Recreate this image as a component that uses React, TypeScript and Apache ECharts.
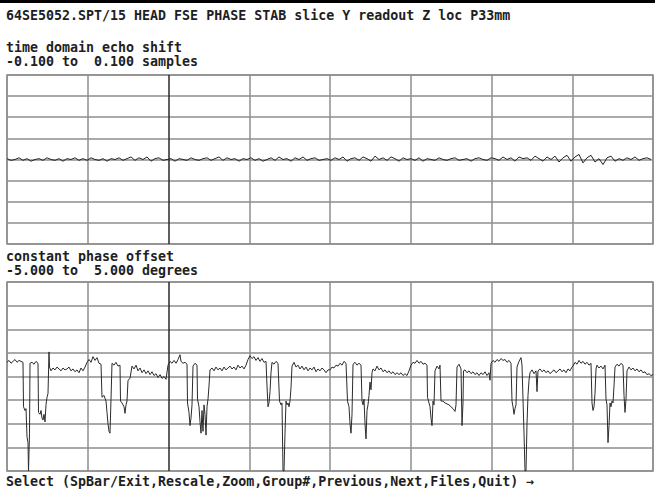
import React, { useEffect, useRef } from "react";
import * as echarts from "echarts";

const titleText = "64SE5052.SPT/15 HEAD FSE PHASE STAB slice Y readout Z loc P33mm";
const shiftLabel = "time domain echo shift";
const shiftRange = "-0.100 to  0.100 samples";
const phaseLabel = "constant phase offset";
const phaseRange = "-5.000 to  5.000 degrees";
const promptText = "Select (SpBar/Exit,Rescale,Zoom,Group#,Previous,Next,Files,Quit) \u2192";

const xMax = 646;
const xInterval = 80.75;
const shiftMin = -0.1;
const shiftMax = 0.1;
const phaseMin = -5;
const phaseMax = 5;

// time domain echo shift, one value every 4 samples
const shiftStep = 4;
const shiftValues = [
  0.001, -0.001, 0.0, 0.002, -0.001, 0.001, -0.002, 0.0, 0.001, -0.001,
  0.002, 0.0, -0.001, 0.001, -0.002, 0.001, 0.0, 0.002, -0.001, 0.001,
  -0.001, 0.002, 0.0, -0.001, 0.001, -0.002, 0.001, 0.0, 0.002, -0.001,
  0.001, 0.003, -0.001, 0.002, 0.0, 0.003, -0.002, 0.001, 0.002, -0.001,
  0.0, 0.001, -0.002, 0.001, 0.0, -0.001, 0.002, 0.0, -0.001, 0.001,
  0.002, -0.001, 0.001, 0.003, -0.001, 0.002, 0.0, 0.001, -0.002, 0.001,
  0.0, 0.002, -0.001, 0.001, -0.002, 0.0, 0.002, -0.001, 0.003, 0.0,
  0.001, -0.002, 0.002, 0.0, 0.003, -0.001, 0.001, 0.002, -0.001, 0.0,
  0.001, -0.001, 0.002, 0.0, 0.003, -0.002, 0.001, 0.002, -0.001, 0.003,
  0.001, -0.002, 0.004, 0.0, 0.002, -0.001, 0.003, 0.001, -0.002, 0.002,
  0.0, 0.001, -0.001, 0.002, -0.002, 0.001, 0.0, -0.001, 0.002, 0.0,
  -0.001, 0.001, 0.002, -0.001, 0.0, 0.001, -0.002, 0.001, 0.002, 0.0,
  -0.001, 0.002, 0.001, -0.001, 0.003, 0.0, 0.002, -0.002, 0.003, 0.001,
  0.002, -0.001, 0.004, 0.001, -0.002, 0.003, 0.0, 0.004, -0.003, 0.002,
  0.005, -0.002, 0.003, 0.006, -0.004, 0.002, 0.005, -0.003, 0.001, -0.006,
  0.002, 0.004, -0.002, 0.001, -0.001, 0.002, 0.0, 0.003, -0.001, 0.001,
  0.002, 0.0,
];

// constant phase offset: [sample, degrees]
const phasePoints: [number, number][] = [
  [0, 0.75], [2, 0.85], [4, 0.7], [6, 0.8], [8, 0.9], [10, 0.75], [12, 0.85], [14, 0.8], [16, 0.75],
  [16.5, -1.6], [18, -1.8], [19, -1.7], [20, -3.2], [21, -3.5], [21.5, -5.0], [22, -5.0], [22.5, -3.0],
  [23, 0.7], [25, 0.75], [27, 0.65], [29, 0.8], [31, 0.7],
  [31.5, -1.9], [33, -2.0], [34, -1.8], [35, -2.2], [36, -2.3], [37, -2.0], [38, -2.4], [39, -1.5], [40, -1.1], [41, -0.9],
  [42, 1.3], [42.5, 0.5], [44, 0.3], [46, 0.45], [48, 0.35], [50, 0.5], [52, 0.4], [54, 0.3], [56, 0.45], [58, 0.35],
  [60, 0.4], [62, 0.5], [64, 0.3], [66, 0.4], [68, 0.25], [70, 0.35], [72, 0.2], [74, 0.45], [76, 0.3], [78, 0.5], [80, 0.75],
  [82, 0.9], [84, 0.75], [86, 1.05], [88, 0.85], [90, 1.0], [92, 0.7], [94, 0.65],
  [95, -1.1], [97, -1.0], [99, -1.3], [100, -1.9], [101, -2.5], [102, -2.9], [103, -3.0], [104, -1.2],
  [105, 0.7], [107, 0.6], [109, 0.75], [111, 0.55], [113, 0.6],
  [113.5, -1.3], [115, -1.4], [117, -1.6], [118, -1.95], [119, -1.5], [120, -1.3], [121, -0.2], [123, -0.1],
  [125, 0.55], [127, 0.4], [129, 0.6], [131, 0.3], [133, 0.45], [135, 0.2], [137, 0.35], [139, 0.15], [141, 0.3],
  [143, 0.1], [145, 0.25], [147, 0.05], [149, 0.15], [151, -0.05], [153, 0.1], [155, -0.1], [157, 0.0], [159, -0.15],
  [161, 0.6], [163, 0.8], [165, 0.7], [167, 0.85], [169, 0.7], [171, 0.9], [173, 1.15], [174, 0.8], [176, 0.7], [178, 0.75], [180, 0.65],
  [180.5, -1.4], [182, -1.9], [183, -2.6], [184, -2.2], [185, -1.5],
  [186, 0.55], [188, 0.7], [190, 0.6],
  [190.5, -1.2], [192, -1.6], [193, -2.4], [194, -3.0], [195, -1.8], [196, -2.9], [197, -1.5], [198, -2.0], [199, -3.1], [200, -1.6], [201, -1.2], [202, -0.5],
  [203, 0.35], [205, 0.45], [207, 0.3], [209, 0.5], [211, 0.35], [213, 0.45], [215, 0.3], [217, 0.5], [219, 0.35], [221, 0.45],
  [223, 0.55], [225, 0.4], [227, 0.5], [229, 0.35], [231, 0.6], [233, 0.45], [235, 0.55], [237, 0.4], [239, 0.6],
  [241, 0.9], [243, 1.1], [245, 0.95], [247, 1.05], [249, 0.85], [251, 1.0], [253, 0.8], [255, 0.95], [257, 0.75], [259, 0.8],
  [260, -0.5], [261, -1.6], [262, -1.4], [263, -0.8], [264, 0.2],
  [265, 0.75], [267, 0.65], [269, 0.8], [271, 0.7],
  [272.5, -1.3], [274, -1.5], [275, -1.4], [276, -5.0], [277, -5.0], [278, -3.0], [279, -1.3], [280, -1.5], [281, -1.4], [282, -1.6], [283, -1.3], [284, -0.6],
  [285, 0.55], [287, 0.75], [289, 0.5], [291, 0.6], [293, 0.4], [295, 0.55], [297, 0.35], [299, 0.5], [301, 0.3], [303, 0.45],
  [305, 0.35], [307, 0.5], [309, 0.25], [311, 0.4], [313, 0.3], [315, 0.45], [317, 0.35], [319, 0.2], [321, 0.35],
  [323, 0.35], [325, 0.5], [327, 0.45], [329, 0.6], [331, 0.55], [333, 0.7], [335, 0.6], [337, 0.8], [339, 0.7],
  [340.5, -1.3], [342, -1.6], [343, -2.5], [344, -3.0], [345, -2.0],
  [346, 0.65], [348, 0.75], [350, 0.6], [352, 0.7], [354, 0.6],
  [355, -1.3], [356, -1.5], [357, -1.2], [358, -2.5], [359, -3.3], [360, -1.8], [361, -1.5], [362, -1.0], [363, -0.3], [364, -0.7],
  [365, 0.2], [366, 0.4], [368, 0.3], [370, 0.55], [372, 0.35], [374, 0.45], [376, 0.25], [378, 0.35], [380, 0.2], [382, 0.3],
  [384, 0.15], [386, 0.25], [388, 0.1], [390, 0.2], [392, 0.1], [394, 0.2], [396, 0.05], [398, 0.15], [400, 0.05], [402, 0.3],
  [404, 0.6], [406, 0.75], [408, 0.7], [410, 0.85], [412, 0.7], [414, 0.8], [416, 0.65], [418, 0.7], [420, 0.6],
  [420.5, -1.1], [422, -1.4], [423, -1.6], [424, -2.2], [425, -2.6], [426, -1.3], [427, -1.5],
  [428, 0.3], [430, 0.55], [432, 0.4], [433, 0.6],
  [434, -1.3], [436, -1.3], [438, -1.4], [440, -1.45], [442, -1.5], [444, -1.6], [446, -1.7], [448, -1.85], [449, -1.5],
  [450, 0.5], [452, 0.65], [454, 0.4], [455, -2.6], [456, -1.4],
  [456.5, 0.3], [458, 0.35], [460, 0.2], [462, 0.3], [464, 0.15], [466, 0.25], [468, 0.1], [470, 0.2], [472, 0.05], [474, 0.2],
  [476, 0.1], [478, 0.25], [480, 0.05], [482, 0.2], [483, -0.2],
  [484, 0.7], [486, 0.85], [488, 0.75], [490, 0.9], [492, 0.8], [494, 0.95], [496, 0.85], [498, 0.9], [500, 0.75], [502, 0.85], [504, 0.7],
  [505, -1.3], [506, -1.6], [507, -2.0], [508, -1.7], [509, -1.5],
  [510, 0.5], [512, 0.8], [514, 1.0], [515, 0.6],
  [516, -1.2], [517, -3.0], [518, -5.0], [519, -5.0], [520, -2.5], [521, -1.0], [522, -0.2],
  [523, 0.2], [525, 0.35], [527, 0.15], [529, 0.3], [530, -0.8], [531, 0.3], [533, 0.4], [535, 0.25], [537, 0.35], [539, 0.2],
  [541, 0.3], [543, 0.15], [545, 0.25], [547, 0.35], [549, 0.2], [551, 0.3], [553, 0.4], [555, 0.25], [557, 0.35], [559, 0.2],
  [561, 0.4], [563, 0.3], [565, 0.5],
  [566, 0.55], [568, 0.75], [570, 0.65], [572, 0.85], [574, 0.7], [576, 0.8], [578, 0.65], [580, 0.75], [582, 0.6], [584, 0.7],
  [585, -1.4], [586, -1.8], [587, -1.6], [588, -0.9], [589, 0.4],
  [590, 0.6], [592, 0.45], [594, 0.55], [596, 0.4], [598, 0.6],
  [599, -1.2], [600, -1.5], [601, -3.5], [602, -2.6], [603, -1.4], [604, -1.6], [605, -1.3], [606, -1.4], [607, -0.5],
  [608, 0.5], [610, 0.65], [612, 0.55], [614, 0.7], [616, 0.6],
  [617, -1.0], [618, -1.9], [619, -1.2], [620, 0.3],
  [622, 0.5], [624, 0.35], [626, 0.45], [628, 0.3], [630, 0.4], [632, 0.25], [634, 0.35], [636, 0.2], [638, 0.25],
  [640, 0.1], [642, 0.15], [644, 0.05], [646, 0.1],
];

const gridColor = "#8e8e8e";
const cursorColor = "#2a2a2a";
const xLineColors = [gridColor, gridColor, cursorColor, gridColor, gridColor, gridColor, gridColor, gridColor, gridColor];
const inkColor = "#1e1e1e";
const fontFamily = "'DejaVu Sans Mono', 'Liberation Mono', monospace";

function makeText(text: string, x: number, y: number) {
  return {
    type: "text",
    x,
    y,
    style: {
      text,
      fill: inkColor,
      font: `bold 13.3px ${fontFamily}`,
      textVerticalAlign: "middle",
      verticalAlign: "middle",
    },
  };
}

export default function App() {
  const ref = useRef<HTMLDivElement>(null);

  useEffect(() => {
    document.body.style.margin = "0";
    if (!ref.current) return;
    const chart = echarts.init(ref.current, null, { renderer: "svg" });

    const xAxisBase = (gridIndex: number) => ({
      type: "value",
      gridIndex,
      min: 0,
      max: xMax,
      interval: xInterval,
      axisLine: { show: false },
      axisTick: { show: false },
      axisLabel: { show: false },
      splitLine: { show: true, lineStyle: { color: xLineColors, width: 1.5 } },
    });

    const yAxisBase = (gridIndex: number, min: number, max: number) => ({
      type: "value",
      gridIndex,
      min,
      max,
      interval: (max - min) / 8,
      axisLine: { show: false },
      axisTick: { show: false },
      axisLabel: { show: false },
      splitLine: { show: true, lineStyle: { color: gridColor, width: 1.5 } },
    });

    chart.setOption({
      animation: false,
      backgroundColor: "#ffffff",
      grid: [
        { left: 7, top: 75, width: 646, height: 169, show: true, borderColor: gridColor, borderWidth: 1.5 },
        { left: 7, top: 282, width: 646, height: 189, show: true, borderColor: gridColor, borderWidth: 1.5 },
      ],
      xAxis: [xAxisBase(0), xAxisBase(1)],
      yAxis: [yAxisBase(0, shiftMin, shiftMax), yAxisBase(1, phaseMin, phaseMax)],
      series: [
        {
          type: "line",
          xAxisIndex: 0,
          yAxisIndex: 0,
          data: shiftValues.map((v, i) => [i * shiftStep, v]),
          showSymbol: false,
          symbol: "none",
          lineStyle: { color: "#222222", width: 1 },
          silent: true,
        },
        {
          type: "line",
          xAxisIndex: 1,
          yAxisIndex: 1,
          data: phasePoints,
          showSymbol: false,
          symbol: "none",
          lineStyle: { color: "#2b2b2b", width: 1 },
          silent: true,
        },
      ],
      graphic: [
        { type: "rect", shape: { x: 0, y: 0, width: 655, height: 3 }, style: { fill: "#000000" } },
        makeText(titleText, 6, 15),
        makeText(shiftLabel, 6, 47),
        makeText(shiftRange, 6, 61),
        makeText(phaseLabel, 6, 256),
        makeText(phaseRange, 6, 270),
        makeText(promptText, 6, 481),
      ],
    });

    return () => chart.dispose();
  }, []);

  return <div ref={ref} style={{ width: 655, height: 489 }} />;
}
